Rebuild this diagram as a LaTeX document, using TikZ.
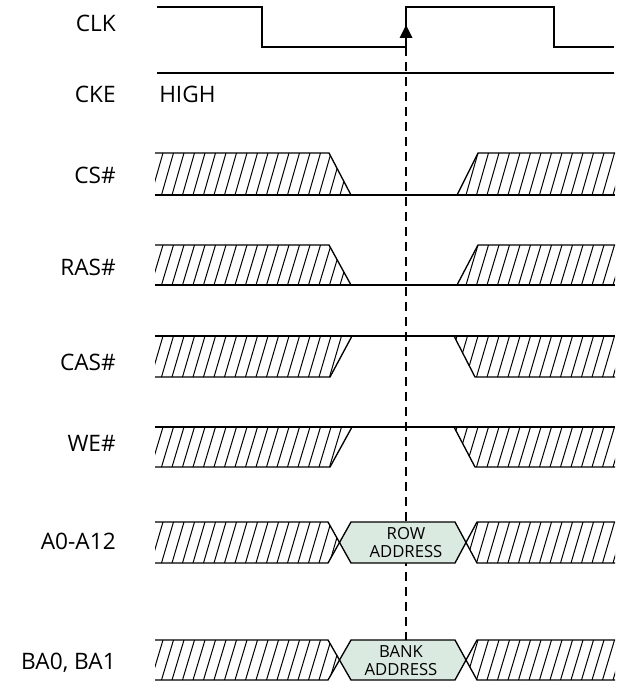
\documentclass[tikz,border=0pt]{standalone}
\usepackage{fontspec}
\setmainfont{Open Sans}
\definecolor{addrgreen}{RGB}{219,234,225}
\newcommand\hatchreg[3]{%
  \begin{scope}
    \clip #1;
    \foreach \hx in {130,140.5,...,640} \draw[hatchline] (\hx,#3) -- (\hx+12,#2);
  \end{scope}}
\newcommand\rowfall[2]{% CS#/RAS# type: t, b
  \hatchreg{(155,#1)--(329,#1)--(351,#2)--(155,#2)--cycle}{#1}{#2}
  \hatchreg{(457,#2)--(478,#1)--(615,#1)--(615,#2)--cycle}{#1}{#2}
  \draw[sig] (155,#1) -- (329,#1) -- (351,#2);
  \draw[sig] (155,#2) -- (615,#2);
  \draw[sig] (457,#2) -- (478,#1) -- (615,#1);}
\newcommand\rowrise[2]{% CAS#/WE# type: t, b
  \hatchreg{(155,#1)--(352,#1)--(330,#2)--(155,#2)--cycle}{#1}{#2}
  \hatchreg{(454,#1)--(615,#1)--(615,#2)--(475,#2)--cycle}{#1}{#2}
  \draw[sig] (155,#2) -- (330,#2) -- (352,#1);
  \draw[sig] (155,#1) -- (615,#1);
  \draw[sig] (454,#1) -- (475,#2) -- (615,#2);}
\newcommand\rowbus[3]{% t, b, m
  \hatchreg{(155,#1)--(328,#1)--(340,#3)--(328,#2)--(155,#2)--cycle}{#1}{#2}
  \hatchreg{(466,#3)--(477,#1)--(615,#1)--(615,#2)--(477,#2)--cycle}{#1}{#2}
  \fill[addrgreen] (340,#3)--(351,#1)--(455,#1)--(466,#3)--(455,#2)--(351,#2)--cycle;
  \draw[sig] (155,#1)--(328,#1)--(351,#2)--(455,#2)--(477,#1)--(615,#1);
  \draw[sig] (155,#2)--(328,#2)--(351,#1)--(455,#1)--(477,#2)--(615,#2);}
\begin{document}
\begin{tikzpicture}[x=0.75pt,y=-0.75pt,
  sig/.style={line width=1pt, line join=miter},
  hatchline/.style={line width=0.75pt},
  lbl/.style={anchor=base east, font=\fontsize{17}{20}\selectfont, inner sep=0pt},
  addr/.style={font=\fontsize{12.5}{13.5}\selectfont, align=center, inner sep=0pt},
  guide/.style={line width=1pt, dash pattern=on 6.75pt off 4.5pt}]
\useasboundingbox (0,0) rectangle (623,681);

% labels
\node[lbl] (clk) at (116,32) {CLK};
\node[lbl] (cke) at (116,103) {CKE};
\node[lbl] (cs) at (116,183) {CS\#};
\node[lbl] (ras) at (116,275) {RAS\#};
\node[lbl] (cas) at (116,370) {CAS\#};
\node[lbl] (we) at (116,451) {WE\#};
\node[lbl] (addr) at (116,549) {A0-A12};
\node[lbl] (ba) at (116,669) {BA0, BA1};
\node[lbl, anchor=base west] (high) at (159,103) {HIGH};

% reference edge (dashed guide)
\coordinate (edgelow) at (406,47);
\coordinate (guideend) at (406,640);
\draw[guide] (edgelow) -- (guideend);

% CLK and CKE
\draw[sig] (157,7) -- (262,7) -- (262,47) -- (406,47) -- (406,7) -- (554,7) -- (554,47) -- (614,47);
\draw[sig] (157,73) -- (614,73);
\fill (406,25) -- (412.5,38) -- (399.5,38) -- cycle;

% control signals
\rowfall{153}{195}
\rowfall{245}{285}
\rowrise{336}{377}
\rowrise{427}{467}

% buses
\rowbus{522}{563}{542.5}
\node[addr] (rowaddr) at (406,543) {ROW\\ADDRESS};
\rowbus{640}{680}{660}
\node[addr] (bankaddr) at (401,661) {BANK\\ADDRESS};
\end{tikzpicture}
\end{document}
